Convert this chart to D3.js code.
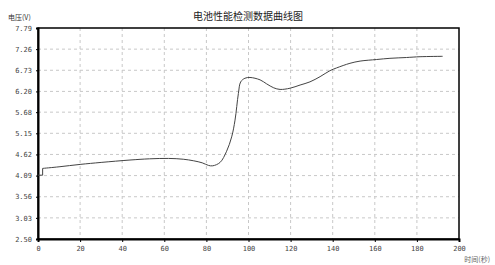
<!DOCTYPE html>
<html>
<head>
<meta charset="utf-8">
<script src="https://cdn.jsdelivr.net/npm/d3@7"></script>
<style>
html,body{margin:0;padding:0;background:#fff;}
svg{display:block;}
</style>
</head>
<body>
<svg id="chart" width="495" height="265"></svg>
<script>
const titleText = "电池性能检测数据曲线图";
const yLabelText = "电压(V)";
const xLabelText = "时间(秒)";
const yTicks = [2.50, 3.03, 3.56, 4.09, 4.62, 5.15, 5.68, 6.20, 6.73, 7.26, 7.79];
const xTicks = [0, 20, 40, 60, 80, 100, 120, 140, 160, 180, 200];
const timeSec = [0, 2.2, 2.2, 10, 20, 30, 43.7, 53, 62, 69, 74, 78, 81, 83, 86.5, 89.6, 92, 93.6, 95.2, 96.3, 98.3, 100.7, 105.5, 108.6, 112, 115, 119.7, 124.5, 129.2, 134, 138.7, 141.9, 148.2, 153, 160.9, 167.2, 175, 181.5, 192.2];
const voltage = [4.10, 4.10, 4.27, 4.31, 4.37, 4.42, 4.48, 4.51, 4.52, 4.50, 4.46, 4.41, 4.345, 4.335, 4.42, 4.70, 5.06, 5.48, 6.15, 6.44, 6.53, 6.55, 6.49, 6.39, 6.29, 6.25, 6.28, 6.36, 6.44, 6.57, 6.72, 6.79, 6.905, 6.96, 7.00, 7.03, 7.05, 7.07, 7.08];

const svg = d3.select("#chart");
const L = 38, R = 459, T = 28, B = 239;
const x = d3.scaleLinear().domain([0, 200]).range([L, R]);
const y = d3.scaleLinear().domain([2.50, 7.79]).range([B, T]);

// grid
svg.append("g").selectAll("line").data(yTicks.slice(1, -1)).join("line")
  .attr("x1", L).attr("x2", R).attr("y1", d => y(d)).attr("y2", d => y(d))
  .attr("stroke", "#c8c8c8").attr("stroke-width", 1).attr("stroke-dasharray", "3,3");
svg.append("g").selectAll("line").data(xTicks.slice(1, -1)).join("line")
  .attr("y1", T).attr("y2", B).attr("x1", d => x(d)).attr("x2", d => x(d))
  .attr("stroke", "#c8c8c8").attr("stroke-width", 1).attr("stroke-dasharray", "3,3");

// frame
svg.append("rect").attr("x", L).attr("y", T).attr("width", R - L).attr("height", B - T)
  .attr("fill", "none").attr("stroke", "#000").attr("stroke-width", 1.5);

// axes
const fmtY = d3.format(".2f");
const yAxis = d3.axisLeft(y).tickValues(yTicks).tickFormat(d => fmtY(d)).tickSize(2).tickPadding(4);
const xAxis = d3.axisBottom(x).tickValues(xTicks).tickFormat(d3.format("d")).tickSize(3).tickPadding(4);
const gy = svg.append("g").attr("transform", `translate(${L},0)`).call(yAxis);
const gx = svg.append("g").attr("transform", `translate(0,${B})`).call(xAxis);
[gy, gx].forEach(g => {
  g.select(".domain").attr("stroke", "#000").attr("stroke-width", 2);
  g.selectAll(".tick line").attr("stroke", "#000");
  g.selectAll(".tick text").attr("fill", "#444")
    .style("font-family", "'DejaVu Sans Mono', monospace").style("font-size", "7px");
});

// line: initial step drawn straight, the rest smoothed
const pts = timeSec.map((t, i) => [t, voltage[i]]);
const lineStep = d3.line().x(d => x(d[0])).y(d => y(d[1]));
const lineSmooth = d3.line().x(d => x(d[0])).y(d => y(d[1])).curve(d3.curveCatmullRom.alpha(0.5));
svg.append("path").datum(pts.slice(0, 3)).attr("d", lineStep)
  .attr("fill", "none").attr("stroke", "#444").attr("stroke-width", 1);
svg.append("path").datum(pts.slice(2)).attr("d", lineSmooth)
  .attr("fill", "none").attr("stroke", "#444").attr("stroke-width", 1);

// texts
svg.append("text").attr("x", 248).attr("y", 20).attr("text-anchor", "middle")
  .style("font-family", "'Noto Sans CJK SC', sans-serif").style("font-size", "10px").attr("fill", "#222")
  .text(titleText);
svg.append("text").attr("x", 8).attr("y", 20)
  .style("font-family", "'Noto Sans CJK SC', sans-serif").style("font-size", "7px").attr("fill", "#333")
  .text(yLabelText);
svg.append("text").attr("x", 490).attr("y", 262).attr("text-anchor", "end")
  .style("font-family", "'Noto Sans CJK SC', sans-serif").style("font-size", "7px").attr("fill", "#666")
  .text(xLabelText);
</script>
</body>
</html>
